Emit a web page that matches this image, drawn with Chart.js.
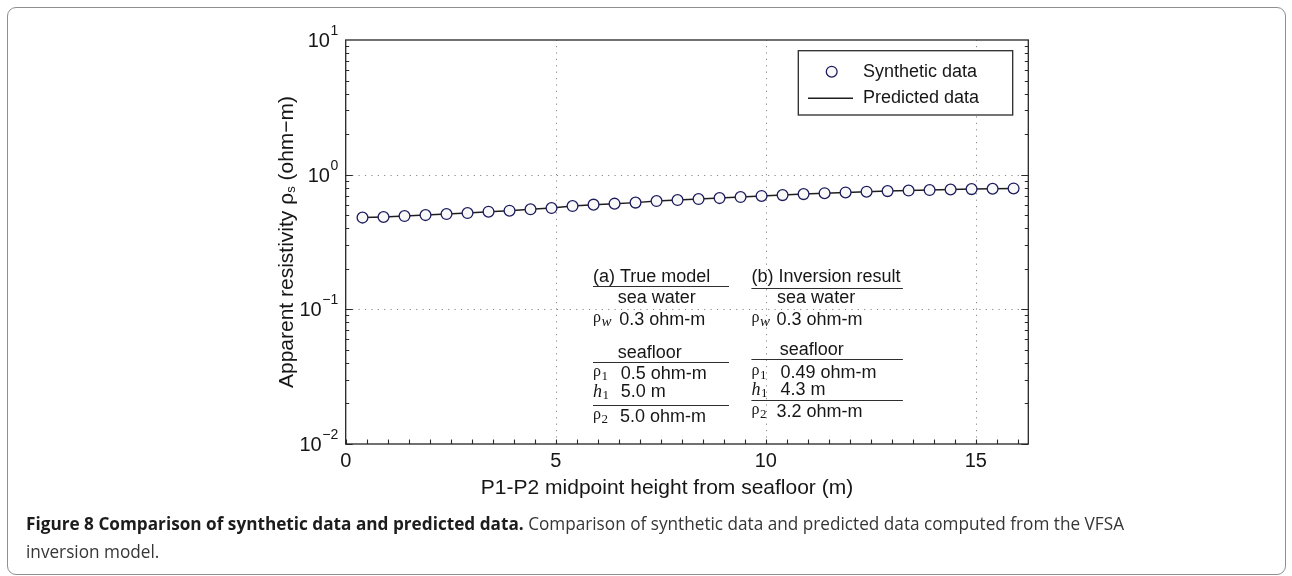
<!DOCTYPE html>
<html>
<head>
<meta charset="utf-8">
<script src="https://cdn.jsdelivr.net/npm/chart.js@4.4.1/dist/chart.umd.min.js"></script>
<style>
  html, body { margin: 0; padding: 0; background: #fff; }
  body { width: 1292px; height: 576px; position: relative; overflow: hidden; }
  #frame {
    position: absolute; left: 7px; top: 7px; width: 1279px; height: 568px;
    border: 1.5px solid #8f8f8f; border-radius: 9px; box-sizing: border-box;
  }
  #plot { position: absolute; left: 0; top: 0; }
  #caption {
    position: absolute; left: 26px; top: 509px;
    font-family: "Open Sans", "Noto Sans", sans-serif; font-size: 17.5px; line-height: 28px;
    color: #363636; white-space: nowrap; transform-origin: 0 0;
  }
  #caption b { color: #1c1c1c; font-weight: 700; }
</style>
</head>
<body>
<div id="frame"></div>
<canvas id="plot" width="1292" height="576"></canvas>
<div id="caption"><span id="capLine1"><b>Figure 8 Comparison of synthetic data and predicted data.</b> Comparison of synthetic data and predicted data computed from the VFSA</span><br><span>inversion model.</span></div>

<script>
// P1-P2 midpoint height above the seafloor (m)
const heightM = [0.4, 0.9, 1.4, 1.9, 2.4, 2.9, 3.4, 3.9, 4.4, 4.9, 5.4, 5.9, 6.4, 6.9, 7.4, 7.9,
                 8.4, 8.9, 9.4, 9.9, 10.4, 10.9, 11.4, 11.9, 12.4, 12.9, 13.4, 13.9, 14.4, 14.9, 15.4, 15.9];

// apparent resistivity, synthetic observations (ohm-m)
const syntheticRho = [0.480, 0.485, 0.493, 0.501, 0.510, 0.519, 0.531, 0.540, 0.553, 0.565, 0.585, 0.599,
                      0.609, 0.620, 0.637, 0.648, 0.659, 0.670, 0.682, 0.695, 0.705, 0.717, 0.728, 0.738,
                      0.747, 0.755, 0.762, 0.769, 0.776, 0.781, 0.786, 0.790];

// apparent resistivity predicted by the inverted model (ohm-m)
const predictedRho = [0.480, 0.485, 0.493, 0.501, 0.510, 0.519, 0.531, 0.540, 0.553, 0.565, 0.585, 0.599,
                      0.609, 0.620, 0.637, 0.648, 0.659, 0.670, 0.682, 0.695, 0.705, 0.717, 0.728, 0.738,
                      0.747, 0.755, 0.762, 0.769, 0.776, 0.781, 0.786, 0.790];

// axis ticks
const xTicks = [0, 5, 10, 15];
const yTicks = [0.01, 0.1, 1, 10];
const yTickExponents = ['\u22122', '\u22121', '0', '1'];

// axis titles
const xTitle = 'P1-P2 midpoint height from seafloor (m)';
const yTitleParts = ['Apparent resistivity \u03c1', 's', ' (ohm\u2212m)'];

// model tables drawn inside the plot
const trueModelText = ['(a) True model', 'sea water', '0.3 ohm-m', 'seafloor', '0.5 ohm-m', '5.0 m', '5.0 ohm-m'];
const inversionText = ['(b) Inversion result', 'sea water', '0.3 ohm-m', 'seafloor', '0.49 ohm-m', '4.3 m', '3.2 ohm-m'];

const SANS = '"Liberation Sans", Arial, Helvetica, sans-serif';
const SERIF = '"Liberation Serif", "Times New Roman", serif';
const INK = '#161616';
const TF = '18px ' + SANS;

// layout of each table column, offsets from the plot area's top-left corner
const tableLayout = [
  { texts: trueModelText, x0: 247.3, ruleW: 136, rules: [246, 321.7, 365],
    head: 241.7, seaX: 24.7, seaY: 263.3, wY: 285, wVal: 26.3,
    floorX: 24.7, floorY: 318.3, r1Y: 339.3, hY: 356.7, r2Y: 381.7, valX: 27.7, r2Val: 27 },
  { texts: inversionText, x0: 405.7, ruleW: 151.5, rules: [248.3, 319.3, 360],
    head: 241.7, seaX: 25.7, seaY: 263.3, wY: 285, wVal: 25,
    floorX: 28.3, floorY: 315, r1Y: 338.3, hY: 355, r2Y: 376.7, valX: 29, r2Val: 25 }
];

function text(ctx, str, x, y, font, align) {
  ctx.font = font;
  ctx.textAlign = align || 'left';
  ctx.fillText(str, x, y);
}

// rho symbol with a subscript, placed relative to the row baseline y
function rhoSymbol(ctx, x, y, sub, italicSub) {
  ctx.textBaseline = 'alphabetic';
  text(ctx, '\u03c1', x, y - 3, '16px ' + SERIF);
  const w = ctx.measureText('\u03c1').width;
  text(ctx, sub, x + w + 0.5, y + 1, (italicSub ? 'italic 15px ' : '13px ') + SERIF);
}

const plotDecor = {
  id: 'plotDecor',
  beforeDatasetsDraw(chart) {
    const { ctx, chartArea: a, scales: { x, y } } = chart;
    ctx.save();

    // dotted grid at interior major ticks
    ctx.strokeStyle = '#8a8a8a';
    ctx.lineWidth = 1;
    ctx.setLineDash([1.2, 5.2]);
    ctx.beginPath();
    xTicks.forEach(v => {
      if (v <= x.min || v >= x.max) return;
      const px = Math.round(x.getPixelForValue(v)) + 0.5;
      ctx.moveTo(px, a.bottom); ctx.lineTo(px, a.top);
    });
    yTicks.forEach(v => {
      if (v <= y.min || v >= y.max) return;
      const py = Math.round(y.getPixelForValue(v)) + 0.5;
      ctx.moveTo(a.left, py); ctx.lineTo(a.right, py);
    });
    ctx.stroke();
    ctx.setLineDash([]);

    // tick marks: x along the bottom, y on both sides
    ctx.strokeStyle = '#2a2a2a';
    ctx.lineWidth = 1.1;
    ctx.beginPath();
    for (let v = 0; v < x.max; v += 0.5) {
      const px = Math.round(x.getPixelForValue(v)) + 0.5;
      ctx.moveTo(px, a.bottom); ctx.lineTo(px, a.bottom - 4.5);
    }
    for (let d = -2; d <= 0; d++) {
      for (let m = 1; m <= 9; m++) {
        const v = m * Math.pow(10, d);
        const py = Math.round(y.getPixelForValue(v)) + 0.5;
        const len = m === 1 ? 7 : 3.5;
        ctx.moveTo(a.left, py); ctx.lineTo(a.left + len, py);
        ctx.moveTo(a.right, py); ctx.lineTo(a.right - len, py);
      }
    }
    ctx.stroke();

    // axes box
    ctx.lineWidth = 1.3;
    ctx.strokeStyle = '#262626';
    ctx.strokeRect(a.left, a.top, a.right - a.left, a.bottom - a.top);
    ctx.restore();
  },

  afterDatasetsDraw(chart) {
    const { ctx, chartArea: a, scales: { y } } = chart;
    ctx.save();
    ctx.fillStyle = INK;

    // y tick labels as powers of ten
    yTicks.forEach((v, i) => {
      const py = y.getPixelForValue(v);
      ctx.textBaseline = 'middle';
      const ex = a.left - 7.5;
      text(ctx, yTickExponents[i], ex, py - 9, '14px ' + SANS, 'right');
      const ew = ctx.measureText(yTickExponents[i]).width;
      text(ctx, '10', ex - ew - 0.5, py + 1.5, '20px ' + SANS, 'right');
    });

    // x axis title
    ctx.textBaseline = 'alphabetic';
    text(ctx, xTitle, 667, 494, '21px ' + SANS, 'center');

    // y axis title with subscript
    ctx.save();
    ctx.translate(287, (a.top + a.bottom) / 2);
    ctx.rotate(-Math.PI / 2);
    ctx.textBaseline = 'middle';
    const [p1, p2, p3] = yTitleParts;
    ctx.font = '21px ' + SANS; const w1 = ctx.measureText(p1).width, w3 = ctx.measureText(p3).width;
    ctx.font = '13px ' + SANS; const w2 = ctx.measureText(p2).width;
    let tx = -(w1 + w2 + w3) / 2;
    text(ctx, p1, tx, 0, '21px ' + SANS); tx += w1;
    text(ctx, p2, tx, 4, '13px ' + SANS); tx += w2;
    text(ctx, p3, tx, 0, '21px ' + SANS);
    ctx.restore();

    // legend
    const syn = chart.data.datasets[0], pre = chart.data.datasets[1];
    const lx = a.right - 230, ly = a.top + 10.7, lw = 214.4, lh = 64.3;
    ctx.fillStyle = '#fff';
    ctx.fillRect(lx, ly, lw, lh);
    ctx.strokeStyle = '#2a2a2a'; ctx.lineWidth = 1.3;
    ctx.strokeRect(lx, ly, lw, lh);
    ctx.beginPath();
    ctx.arc(lx + 33.4, ly + 21, syn.pointRadius, 0, Math.PI * 2);
    ctx.fillStyle = syn.pointBackgroundColor; ctx.fill();
    ctx.strokeStyle = syn.pointBorderColor; ctx.lineWidth = syn.pointBorderWidth; ctx.stroke();
    ctx.beginPath();
    ctx.moveTo(lx + 9.7, ly + 47.6); ctx.lineTo(lx + 54.7, ly + 47.6);
    ctx.strokeStyle = pre.borderColor; ctx.lineWidth = pre.borderWidth; ctx.stroke();
    ctx.fillStyle = INK;
    ctx.textBaseline = 'middle';
    text(ctx, syn.label, lx + 64.7, ly + 21, TF);
    text(ctx, pre.label, lx + 64.7, ly + 47, TF);

    // model tables
    ctx.textBaseline = 'alphabetic';
    tableLayout.forEach(c => {
      const X = a.left + c.x0, T = a.top, t = c.texts;
      ctx.fillStyle = INK;
      text(ctx, t[0], X, T + c.head, TF);
      text(ctx, t[1], X + c.seaX, T + c.seaY, TF);
      rhoSymbol(ctx, X, T + c.wY, 'w', true);
      text(ctx, t[2], X + c.wVal, T + c.wY, TF);
      text(ctx, t[3], X + c.floorX, T + c.floorY, TF);
      rhoSymbol(ctx, X, T + c.r1Y, '1', false);
      text(ctx, t[4], X + c.valX, T + c.r1Y, TF);
      text(ctx, 'h', X, T + c.hY, 'italic 18px ' + SERIF);
      const hw = ctx.measureText('h').width;
      text(ctx, '1', X + hw + 0.5, T + c.hY + 2, '13px ' + SERIF);
      text(ctx, t[5], X + c.valX, T + c.hY, TF);
      rhoSymbol(ctx, X, T + c.r2Y, '2', false);
      text(ctx, t[6], X + c.r2Val, T + c.r2Y, TF);
      ctx.strokeStyle = '#2e2e2e'; ctx.lineWidth = 1.2;
      ctx.beginPath();
      c.rules.forEach(ry => {
        const yy = Math.round(T + ry) + 0.5;
        ctx.moveTo(X, yy); ctx.lineTo(X + c.ruleW, yy);
      });
      ctx.stroke();
    });
    ctx.restore();
  }
};

new Chart(document.getElementById('plot'), {
  type: 'scatter',
  data: {
    datasets: [
      {
        label: 'Synthetic data',
        data: heightM.map((h, i) => ({ x: h, y: syntheticRho[i] })),
        showLine: false,
        pointRadius: 5.4,
        pointBackgroundColor: '#f8f8f8',
        pointBorderColor: '#1c1c5e',
        pointBorderWidth: 1.3,
        order: 0
      },
      {
        label: 'Predicted data',
        data: heightM.map((h, i) => ({ x: h, y: predictedRho[i] })),
        showLine: true,
        pointRadius: 0,
        borderColor: '#1e1e1e',
        borderWidth: 1.5,
        order: 1
      }
    ]
  },
  options: {
    responsive: false,
    devicePixelRatio: 1,
    animation: false,
    events: [],
    layout: { autoPadding: false, padding: { left: 0, top: 40, right: 263.7, bottom: 0 } },
    plugins: { legend: { display: false }, tooltip: { enabled: false } },
    scales: {
      x: {
        type: 'linear', position: 'bottom', min: 0, max: 16.25,
        grid: { display: false, drawTicks: false },
        border: { display: false },
        afterBuildTicks: s => { s.ticks = xTicks.map(v => ({ value: v })); },
        afterFit: s => { s.height = 132; },
        ticks: { autoSkip: false, maxRotation: 0, padding: 5, color: INK, font: { family: SANS, size: 20 } },
        title: { display: false }
      },
      y: {
        type: 'logarithmic', position: 'left', min: 0.01, max: 10,
        grid: { display: false, drawTicks: false },
        border: { display: false },
        ticks: { display: false },
        afterFit: s => { s.width = 345.7; }
      }
    }
  },
  plugins: [plotDecor]
});

// fit the caption's first line to the figure width
const cap = document.getElementById('caption');
const line1 = document.getElementById('capLine1').getBoundingClientRect().width;
cap.style.transform = 'scaleX(' + (1098 / line1) + ')';
</script>
</body>
</html>
